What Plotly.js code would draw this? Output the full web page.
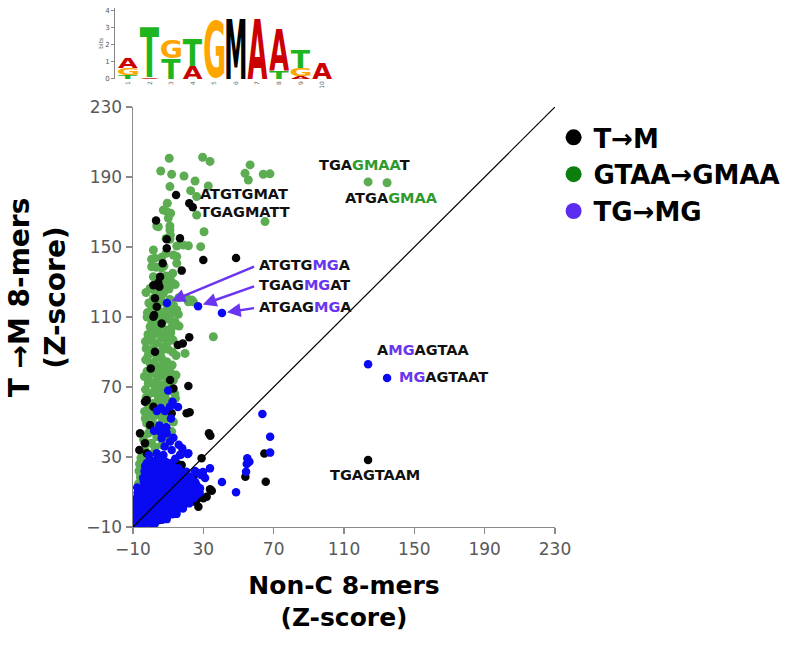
<!DOCTYPE html>
<html><head><meta charset="utf-8">
<script src="https://cdn.plot.ly/plotly-3.0.1.min.js"></script>
<style>html,body{margin:0;padding:0;background:#fff}#chart{width:800px;height:655px}</style>
</head><body><div id="chart"></div>
<script>
// ---------- data ----------
const seriesNames = ['T→M', 'GTAA→GMAA', 'TG→MG'];
const xTicks = [-10, 30, 70, 110, 150, 190, 230];
const yTicks = [-10, 30, 70, 110, 150, 190, 230];

// GTAA→GMAA 8-mers (Non-C Z, T→M Z)
const gtaaX = [10.6,29.6,33.8,5.8,12,19,25.3,11,22.8,32.8,9.5,26.2,7.2,9.2,11.4,26.2,3.5,11,11,30.4,8.8,11,14.9,18.6,21.5,28.5,8.8,0.6,6.3,12.9,3.1,7.6,14.9,8.8,11,56.6,53.7,55.6,64.1,67.9,65.1,10.1,4.4,11.3,1.6,2.5,0.6,6.3,1.6,10.1,12.6,14.9,21.5,24.3,14.9,13.9,4.4,1.6,123.7,134.5,
 -0.3,4.4,7.3,1.6,6.3,13,15.8,0.6,5.4,12,3.5,7.3,16.2,-0.3,4.4,9.2,1.6,6.3,10.1,12.8,3.5,7.3,35.7,19.6,-1.3,3.5,6.3,9.2,-0.3,4.4,7.3,11.1,0.6,5.4,9.2,13,-1.3,2.5,7.3,11.1,-0.3,4.4,8.2,1.6,5.4,20.5,23.4,9.2,12,
 -1.3,2.8,7.3,-0.3,5.4,10.1,-2.2,2.5,8.2,12,-1.3,3.5,0.6,6.3,-3.2,1.6,-2.2,-4.1,-1.3,-4.1,
 9,-3,1,-4,9,-1,13,-2.5,6.5,10,-3.5,3,-2,9.5,2,-2.5,12.5,0,8.5,11.5,-1.5,2.5,12,-2,9.5,3,11,-1,16,8,4.5,14,
 -6.3,-6.6,-5.8,-6.8,-5.5,
 -2.6,2.2,10.5,5.8,-1.8,8.3,3.9,10.8,0.8,5.5,-2.9,5.1,9.8,1.2,5.9,9.9,14.5,-2.8,1.9,7.6,12.3,-1.7,4,8.3,14.5,-2.9,1.6,5.8,9.8,13.8,-1.2,4.3,8.6,14.2,-3.4,1.6,6.8,-0.2,4.5,-2.6,2.5,0.3,-3.8,-2.5];
const gtaaY = [200.7,201.3,198.9,193.4,191.5,190.6,187.7,184.5,182.2,184.9,175,178.8,171.1,170.2,169.3,168.3,162,162,159.7,158.7,154.9,154.4,150.6,151.1,150.7,150.2,146.4,143,144.1,145.4,138.4,139.1,140.7,133.4,133,196.9,192.1,188.3,191.6,191.8,164.5,166.5,161.6,156.8,148.3,143.5,138.7,137.9,133,132.6,135,144.5,118.7,118.7,114,107.3,112.1,104.5,187.2,186.7,
 126.3,127.3,123.5,120.6,118.7,116.8,111.5,115.9,113,112.1,109.2,108.2,104.8,104.4,103.5,102.5,99.7,97.8,95.9,96.8,94.9,93,98.7,89.2,88.2,87.3,86.3,84.4,83.5,81.6,80.6,78.7,77.8,75.9,74.9,74,72.1,70.1,69.2,68.2,66.3,64.4,65.4,60.6,59.7,120.6,119.7,131,130,
 60.7,57.4,61.6,55,54,55,49.2,48.3,47.3,44.5,43.5,41.6,37.8,36.9,34,32.1,27.3,22.6,19.7,15.9,
 52,52,45,40,39,30,50,64,71,62,76,73.5,79,81,84,92,90,96.5,99,101,100,106,104,110,115,124,120,118,121,127.5,131,128.5,
 26,22,18.5,14.8,29.5,
 124,125.5,126,121.5,112.5,111,116.5,108.5,107,105.5,96,100.5,98,91.5,90,91.5,88,85.5,80,83.5,82.5,75,77.5,78,76.8,68.5,66.8,67.5,71.5,66,58.2,62,59.5,63.5,56,53,51,46,44.5,38,35.5,28,26,20.5];

// T→M 8-mers
const tmX = [14.5,22,24,3.1,9.2,16.7,9.2,30,48.6,6.9,17.7,5.4,5,2.5,3.5,2,1.6,4.4,1.6,6.3,15.5,18.3,22,2.5,0.1,21.5,-2.2,1.6,13,11.1,20.5,22.2,-3.2,-0.3,-2.2,-3.2,12,-6,-6.4,33.2,34,29,
 16.7,20.5,24.3,27.2,31.9,33.8,34.8,30,26.2,23.4,18.6,14.8,17.7,24.3,-7,53.9,65.5,64.7,123.7,10,14,5,2,-4];
const tmY = [179.7,175,172.7,165.2,154.4,155,149.3,142.6,143.7,140.7,136.5,133,127.3,120.7,115.9,111.1,128.2,129.6,110.1,106.3,94,94.8,98.4,90.1,80.6,70.6,62.5,58.7,69.2,74,55,55.6,61.6,48.3,32.1,37.8,55,43.5,34,43.5,42.2,29.3,
 7.3,5.4,4.5,1.6,7.3,11.5,10.7,6.4,5.4,15.9,21.6,26.4,25.4,18.8,-0.3,18.7,15.9,32,28.3,-3,-1,-6,3,8];

// TG→MG 8-mers
const tgX = [9.3,27,40.6,123.7,134.5,10,12.5,15.6,3.6,8.2,11.6,5.8,11.1,5.4,9.2,11.1,6.3,3.5,7.3,12,16.7,21.5,2,5,9,13,16,-1,4,8,14,18,
 63.6,68,68,55,56.2,54.7,54.3,40.6,48.6,33.8,29.8,28.7,31,27,25.3,21.1,17.3,26.2,28.1,25.3,23.3,21.5,26.2,
 -2.1,1.4,5.2,8.6,11.8,
 -3.1,0.4,3.6,6.9,10.2,13.1,15.8,
 -3.4,-0.6,2.6,5.4,8.7,11.6,14.3,17.6,20.4,
 -4.2,-1.1,2.1,4.9,8.2,11.1,13.8,17.2,20.1,22.8,
 -3.9,-1.2,2.2,5.1,7.9,11.2,14.1,16.8,20.2,23.1,25.4,
 -7.6,-4.4,-1.6,1.6,4.6,7.4,10.6,13.3,16.6,19.4,22.6,25.2,
 -7.4,-4.6,-1.4,1.4,4.4,7.6,10.4,13.6,16.4,19.6,22.4,25.6,27.9,
 -8.1,-4.9,-2.2,1.1,3.9,7.2,9.8,13.1,15.9,19.2,21.8,24.6,
 -8.2,-4.8,-2.1,1.2,3.8,7.1,10.2,12.8,16.1,18.8,21.9,
 -8.4,-5.6,-2.4,0.6,3.4,6.6,9.4,12.6,15.4,18.4,
 -8.6,-5.4,-2.6,0.4,3.6,6.4,9.6,12.4,14.8,
 -8.5,-5.6,-2.4,0.6,3.4,6.6,9.2,
 -9,-6.1,-3.2,0.1,2.4];
const tgY = [118,116.2,112.3,83,75.2,68,61.5,58.6,56.3,56.3,52,58,58.8,44.5,43.5,38.8,40.7,32.1,31.1,34,31.1,32.1,45,48,47,41,37,31,29,36,29,35,
 54.6,41.6,32.5,29.3,27.3,26,21.6,15.7,9.8,23.5,21.4,19.7,18,20.9,22,31.7,31.5,14,12.1,10.2,7.3,4.5,8.3,
 26.6,27.5,26.8,27.3,26.5,
 24.8,24.1,24.6,24.2,24.7,24,23.6,
 21.8,21.2,21.6,21.1,21.7,21.3,21.8,21.2,21.5,
 18.2,18.8,18.3,18.7,18.4,18.9,18.2,18.7,18.3,18.6,
 15.8,15.2,15.7,15.3,15.6,15.1,15.8,15.3,15.6,15.2,15.7,
 12.6,12.2,12.7,12.3,12.8,12.4,12.6,12.1,12.7,12.3,12.8,12.4,
 9.6,9.2,9.8,9.3,9.7,9.2,9.8,9.4,9.6,9.2,9.8,9.3,9.7,
 6.4,6.8,6.3,6.7,6.2,6.6,6.3,6.8,6.4,6.7,6.2,6.6,
 3.6,3.3,3.7,3.2,3.8,3.4,3.6,3.1,3.7,3.3,3.5,
 0.4,0.8,0.3,0.7,0.2,0.6,0.4,0.8,0.3,0.6,
 -2.4,-2.7,-2.3,-2.8,-2.4,-2.6,-2.2,-2.7,-2.5,
 -5.4,-5.7,-5.3,-5.6,-5.4,-5.8,-5.5,
 -8,-7.8,-8.2,-7.9,-8.1];

// motif logo: letters per position (bottom to top) and their heights in bits
const logoPositions = [1,2,3,4,5,6,7,8,9,10];
const logoLetters = [['T','G','A'],['A','T'],['T','G'],['A','T'],['G'],['M'],['A'],['T','A'],['A','G','T'],['A']];
const logoBits = [[0.2,0.45,0.6],[0.1,2.95],[1.17,1.2],[0.75,1.62],[3.57],[3.58],[3.62],[0.45,2.53],[0.15,0.5,1.08],[0.9]];

// labelled 8-mers
const labelTexts = ['ATGTGMAT','TGAGMATT','TGA<span style="color:#2e9a2e">GMAA</span>T','ATGA<span style="color:#2e9a2e">GMAA</span>',
  'ATGTG<span style="color:#6a35f0">MG</span>A','TGAG<span style="color:#6a35f0">MG</span>AT','ATGAG<span style="color:#6a35f0">MG</span>A',
  'A<span style="color:#6a35f0">MG</span>AGTAA','<span style="color:#6a35f0">MG</span>AGTAAT','TGAGTAAM'];

// ---------- styling / layout ----------
const FONT = 'DejaVu Sans';
const letterColor = {A:'#cc0000', T:'#1fb51f', G:'#ffa500', C:'#0000cc', M:'#000000'};
const LOGO_FS = 40;
const labelPos = [[27,180.3],[27,170],[94.7,196.9],[109.5,178],[60.5,139.7],[60.5,128.3],[60.5,115.7],[127.7,91.1],[140.2,75.7],[100.9,19.7]];
const arrowTargets = [[0,4],[1,5],[2,6]]; // [blue point index, label index]

const traces = [];
const legendColors = ['#000000', '#0d7d0d', '#5b2cf0'];
seriesNames.forEach((n, i) => traces.push({
  x: [null], y: [null], type: 'scatter', mode: 'markers', name: '<b>' + n + '</b>',
  marker: {color: legendColors[i], size: 16}, showlegend: true, hoverinfo: 'skip'
}));
traces.push({x: gtaaX, y: gtaaY, type: 'scatter', mode: 'markers', name: seriesNames[1], showlegend: false,
  marker: {color: '#5cad52', size: 9, line: {width: 0}}});
traces.push({x: tmX, y: tmY, type: 'scatter', mode: 'markers', name: seriesNames[0], showlegend: false,
  marker: {color: '#050505', size: 8.5, line: {width: 0}}});
traces.push({x: tgX, y: tgY, type: 'scatter', mode: 'markers', name: seriesNames[2], showlegend: false,
  marker: {color: '#0a0af2', size: 8.5, line: {width: 0}}});

const annotations = [];
const logoBoxes = [];
logoPositions.forEach((p, i) => {
  let base = 0;
  logoLetters[i].forEach((L, j) => {
    const h = logoBits[i][j];
    annotations.push({xref: 'x2', yref: 'y2', x: p, y: base + h / 2, text: '<b>' + L + '</b>', showarrow: false,
      font: {family: FONT, size: LOGO_FS, color: letterColor[L]}});
    logoBoxes.push({letter: L, x0: p - 0.46, x1: p + 0.46, y0: base, y1: base + h});
    base += h;
  });
});
labelTexts.forEach((t, i) => annotations.push({
  xref: 'x', yref: 'y', x: labelPos[i][0], y: labelPos[i][1], text: '<b>' + t + '</b>', showarrow: false,
  xanchor: 'left', yanchor: 'middle', font: {family: FONT, size: 14.5, color: '#111111'}
}));
arrowTargets.forEach(([pi, li]) => annotations.push({
  xref: 'x', yref: 'y', axref: 'x', ayref: 'y', x: tgX[pi], y: tgY[pi], ax: labelPos[li][0] - 0.8, ay: labelPos[li][1] - 0.5,
  text: '', showarrow: true, arrowhead: 2, arrowsize: 1.1, arrowwidth: 2.5, arrowcolor: '#6a35f0', standoff: 5
}));

const tickFont = {family: FONT, size: 17, color: '#595959'};
const axisCommon = {
  range: [-10, 230], tickmode: 'array', showline: true, linecolor: '#8a8a8a', linewidth: 1.5,
  ticks: 'outside', ticklen: 6, tickwidth: 1.5, tickcolor: '#8a8a8a', showgrid: false, zeroline: false,
  tickfont: tickFont, automargin: false, fixedrange: true
};
const NB = '&nbsp;&nbsp;&nbsp;&nbsp;';
const layout = {
  width: 800, height: 655, paper_bgcolor: '#ffffff', plot_bgcolor: 'rgba(0,0,0,0)',
  margin: {l: 0, r: 0, t: 0, b: 0, autoexpand: false},
  showlegend: true,
  legend: {x: 0.692, xanchor: 'left', y: 0.826, yanchor: 'top', bgcolor: 'rgba(0,0,0,0)',
    font: {family: FONT, size: 26, color: '#000000'}, itemwidth: 30, tracegroupgap: 0},
  xaxis: Object.assign({}, axisCommon, {domain: [0.16625, 0.69375], anchor: 'y', tickvals: xTicks,
    title: {text: '<b>Non-C 8-mers</b><br><b>(Z-score)</b>', font: {family: FONT, size: 25, color: '#000'}, standoff: 18}}),
  yaxis: Object.assign({}, axisCommon, {domain: [0.19542, 0.83664], anchor: 'x', tickvals: yTicks,
    title: {text: '<b>' + NB + 'T →M 8-mers</b><br><b>' + NB + '(Z-score)</b>', font: {family: FONT, size: 28, color: '#000'}, standoff: 12}}),
  xaxis2: {domain: [0.14375, 0.41625], range: [0.395, 10.5], anchor: 'y2', showline: false, showgrid: false, zeroline: false,
    tickmode: 'array', tickvals: logoPositions, ticktext: logoPositions.map(String), ticks: '', tickangle: -90,
    tickfont: {family: FONT, size: 6, color: '#666'}, automargin: false, fixedrange: true},
  yaxis2: {domain: [0.87939, 0.9884], range: [0, 4.2], anchor: 'x2', showline: true, linecolor: '#888', linewidth: 1,
    showgrid: false, zeroline: false, tickmode: 'array', tickvals: [0,1,2,3,4], ticks: 'outside', ticklen: 3, tickcolor: '#888',
    tickfont: {family: FONT, size: 7, color: '#555'}, automargin: false, fixedrange: true,
    title: {text: 'bits', font: {family: FONT, size: 6, color: '#555'}, standoff: 1}},
  shapes: [{type: 'line', xref: 'x', yref: 'y', x0: -10, y0: -10, x1: 230, y1: 230, layer: 'above',
    line: {color: '#000000', width: 1.2}}],
  annotations: annotations
};

const gd = document.getElementById('chart');

function fitLogo() {
  const fl = gd._fullLayout;
  const xa = fl.xaxis2, ya = fl.yaxis2;
  const ctx = document.createElement('canvas').getContext('2d');
  ctx.font = 'bold ' + LOGO_FS + 'px "' + FONT + '"';
  logoBoxes.forEach((bx, i) => {
    const g = gd.querySelector('g.annotation[data-index="' + i + '"]');
    if (!g) return;
    const t = g.querySelector('text.annotation-text') || g.querySelector('text');
    if (!t) return;
    t.removeAttribute('transform');
    const bb = t.getBBox();
    const m = ctx.measureText(bx.letter);
    const fa = m.fontBoundingBoxAscent, fd = m.fontBoundingBoxDescent;
    const base = bb.y + bb.height * fa / (fa + fd);
    const il = bb.x - m.actualBoundingBoxLeft, ir = bb.x + m.actualBoundingBoxRight;
    const it = base - m.actualBoundingBoxAscent, ib = base + m.actualBoundingBoxDescent;
    const ctm = t.parentNode.getCTM();
    const X0 = xa._offset + xa.l2p(bx.x0), X1 = xa._offset + xa.l2p(bx.x1);
    const Y0 = ya._offset + ya.l2p(bx.y1), Y1 = ya._offset + ya.l2p(bx.y0);
    const sx = (X1 - X0) / (ir - il), sy = (Y1 - Y0) / (ib - it);
    t.setAttribute('transform', 'translate(' + (X0 - ctm.e) + ',' + (Y0 - ctm.f) + ') scale(' + sx + ',' + sy + ') translate(' + (-il) + ',' + (-it) + ')');
  });
}

Plotly.newPlot(gd, traces, layout, {staticPlot: true, displayModeBar: false}).then(fitLogo);
</script>
</body></html>
